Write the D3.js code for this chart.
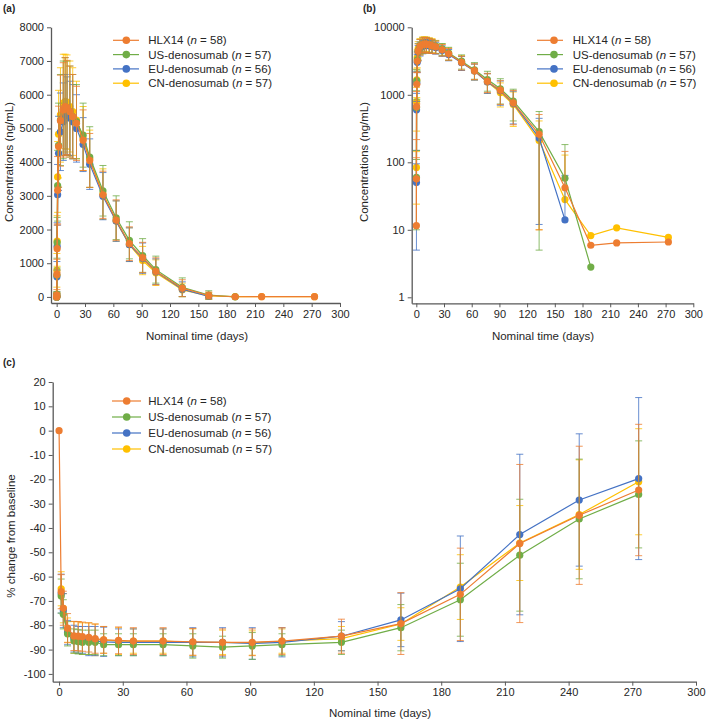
<!DOCTYPE html>
<html><head><meta charset="utf-8">
<script src="https://cdn.jsdelivr.net/npm/d3@7"></script>
<style>
body{margin:0;background:#fff;}
text{font-family:"Liberation Sans",Arial,sans-serif;fill:#262626;}
</style>
</head><body><svg id="chart" width="709" height="720"></svg>
<script>
// ---------- data ----------
const seriesNames = ["HLX14", "US-denosumab", "EU-denosumab", "CN-denosumab"];
const seriesN = [58, 57, 56, 57];
const seriesColors = ["#ED7D31", "#70AD47", "#4472C4", "#FFC000"];

// PK (panels a, b)
const pkTimes = [0, 0.04, 0.125, 0.25, 0.5, 1, 2, 4, 7, 9, 11, 14, 17, 21, 28, 35, 49, 63, 77, 91, 105, 133, 161, 189, 217, 273];
const pkHLX14 = [0, 11.5, 57, 667, 1432, 3165, 4460, 5230, 5550, 5650, 5620, 5500, 5350, 5150, 4650, 4050, 3030, 2280, 1580, 1170, 760, 260, 42, 5.9, 6.4, 6.6];
const pkHLX14SD = [0, 0, 60, 450, 700, 1000, 1200, 1350, 1400, 1450, 1400, 1350, 1250, 1100, 900, 800, 700, 600, 500, 450, 400, 250, 103, 0, 0, 0];
const pkUS = [0, 0, 60, 650, 1610, 3300, 4500, 5250, 5550, 5650, 5600, 5500, 5350, 5200, 4800, 4150, 3150, 2350, 1680, 1230, 810, 285, 58, 2.8, null, null];
const pkUSSD = [0, 0, 50, 500, 750, 1050, 1250, 1350, 1450, 1450, 1400, 1350, 1250, 1100, 950, 900, 750, 650, 550, 500, 400, 280, 125, 0, null, null];
const pkEU = [0, 0, 50, 600, 1500, 3030, 4260, 4900, 5200, 5400, 5380, 5300, 5200, 5000, 4520, 3940, 2990, 2250, 1550, 1150, 750, 230, 14, null, null, null];
const pkEUSD = [0, 0, 45, 450, 700, 900, 1100, 1150, 1150, 1200, 1150, 1100, 1100, 1000, 800, 750, 700, 600, 500, 450, 380, 218, 50, null, null, null];
const pkCN = [0, 0, 84, 790, 1660, 3560, 4830, 5400, 5750, 5800, 5780, 5650, 5500, 5250, 4700, 4100, 3050, 2250, 1550, 1080, 720, 210, 28, 8.2, 10.7, 7.7];
const pkCNSD = [0, 0, 60, 500, 750, 1050, 1300, 1400, 1450, 1400, 1400, 1350, 1300, 1150, 950, 850, 750, 600, 500, 420, 380, 200, 100, 0, 0, 0];

// % change from baseline (panel c)
const bmTimes = [0, 1, 2, 4, 7, 9, 11, 14, 17, 21, 28, 35, 49, 63, 77, 91, 105, 133, 161, 189, 217, 245, 273];
const bmHLX14 = [0, -66.2, -73, -81.2, -84.4, -84.5, -84.7, -85, -85.5, -86, -86.2, -86.5, -86.5, -86.8, -87, -87, -86.5, -84.5, -79.3, -67.3, -46.4, -34.8, -24.4];
const bmHLX14SD = [0, 7, 7, 6, 6, 6, 6, 6, 6, 5.5, 5.5, 5.5, 5.5, 5.5, 5.5, 5.5, 5.5, 7, 12.7, 19, 32.5, 28.4, 27];
const bmUS = [null, -68, -75.5, -83.5, -86.5, -86.8, -87, -87, -87, -88, -88, -88, -88, -88.5, -89, -88.5, -88, -87, -81, -69.5, -51.2, -36.3, -26.2];
const bmUSSD = [null, 7, 6, 5, 5, 5, 5, 5, 5, 4.5, 4.5, 4.5, 4.5, 5, 4.5, 5.5, 4.5, 5, 9.5, 15, 23, 24.6, 22];
const bmEU = [null, -67, -74, -83, -85.5, -86, -86, -86.5, -86.5, -86.8, -87, -87, -87, -87, -87, -87.5, -87, -84.5, -77.8, -65, -42.7, -28.5, -19.7];
const bmEUSD = [null, 8, 7, 5, 5.5, 5.5, 5.5, 6, 6, 6, 5.5, 5.5, 5.5, 6, 6, 6.5, 6, 6, 11, 21.7, 33, 27.2, 33.3];
const bmCN = [null, -65, -73, -82, -85, -85, -85.5, -85.5, -86, -86, -86.5, -86.5, -86.5, -87, -87, -87.3, -86.5, -85.5, -79.5, -64.3, -46.2, -34.5, -21];
const bmCNSD = [null, 7, 6, 5, 6.5, 6.5, 6.5, 6.5, 6.5, 5.5, 5.5, 5, 5, 5.5, 5, 5, 5, 5, 6.7, 13.3, 15.4, 22.5, 21.8];

const xTicks = [0, 30, 60, 90, 120, 150, 180, 210, 240, 270, 300];
const yTicksA = [0, 1000, 2000, 3000, 4000, 5000, 6000, 7000, 8000];
const yTicksB = [1, 10, 100, 1000, 10000];
const yTicksC = [20, 10, 0, -10, -20, -30, -40, -50, -60, -70, -80, -90, -100];

// ---------- drawing ----------
const svg = d3.select("#chart");
const axisColor = "#595959";

function buildSeries(times, vals, sds) {
  return vals.map((v, k) => ({ name: seriesNames[k], n: seriesN[k], color: seriesColors[k],
    pts: times.map((t, i) => ({ t, v: v[i], sd: sds[k][i] })) }));
}

function styleAxis(g) {
  g.select(".domain").attr("stroke", axisColor).attr("stroke-width", 1.3);
  g.selectAll(".tick line").attr("stroke", axisColor).attr("stroke-width", 1);
  g.selectAll(".tick text").attr("font-size", 11).attr("fill", "#262626")
    .attr("font-family", '"Liberation Sans",Arial,sans-serif');
}

function drawPanel(cfg) {
  const g = svg.append("g");
  const x = d3.scaleLinear().domain(cfg.xDomain).range(cfg.xRange);
  const y = cfg.log ? d3.scaleLog().domain(cfg.yDomain).range(cfg.yRange)
                    : d3.scaleLinear().domain(cfg.yDomain).range(cfg.yRange);
  const valid = d => d.v !== null && d.v !== undefined && (!cfg.log || d.v > 0);

  // axes
  g.append("g").attr("transform", `translate(0,${cfg.yRange[0]})`)
    .call(d3.axisBottom(x).tickValues(xTicks).tickSize(4).tickSizeOuter(0).tickPadding(3).tickFormat(d3.format("d")))
    .call(styleAxis);
  g.append("g").attr("transform", `translate(${cfg.xRange[0]},0)`)
    .call(d3.axisLeft(y).tickValues(cfg.yTicks).tickSize(4).tickSizeOuter(0).tickPadding(3).tickFormat(d => String(d)))
    .call(styleAxis);

  // series (drawn in reverse so HLX14 ends on top)
  const line = d3.line().defined(valid).x(d => x(d.t)).y(d => y(d.v));
  const cap = 3.5;
  cfg.series.slice().reverse().forEach(s => {
    const sg = g.append("g");
    const eb = s.pts.filter(d => valid(d) && d.sd);
    eb.forEach(d => {
      const hi = d.v + d.sd, lo = d.v - d.sd;
      const xx = x(d.t);
      const yHi = y(hi);
      const hasLo = !cfg.log || lo > 0;
      const yLo = hasLo ? y(lo) : y(d.v);
      sg.append("line").attr("x1", xx).attr("x2", xx).attr("y1", yHi).attr("y2", yLo)
        .attr("stroke", s.color).attr("stroke-width", 1).attr("stroke-opacity", 0.8);
      sg.append("line").attr("x1", xx - cap).attr("x2", xx + cap).attr("y1", yHi).attr("y2", yHi)
        .attr("stroke", s.color).attr("stroke-width", 1).attr("stroke-opacity", 0.8);
      if (hasLo) sg.append("line").attr("x1", xx - cap).attr("x2", xx + cap).attr("y1", yLo).attr("y2", yLo)
        .attr("stroke", s.color).attr("stroke-width", 1).attr("stroke-opacity", 0.8);
    });
    sg.append("path").datum(s.pts.filter(valid)).attr("d", line)
      .attr("fill", "none").attr("stroke", s.color).attr("stroke-width", 1.2);
    sg.selectAll("circle").data(s.pts.filter(valid)).join("circle")
      .attr("cx", d => x(d.t)).attr("cy", d => y(d.v)).attr("r", 3.6).attr("fill", s.color);
  });

  // legend
  const lg = g.append("g");
  cfg.series.forEach((s, i) => {
    const yy = cfg.legend.y0 + i * cfg.legend.dy;
    lg.append("line").attr("x1", cfg.legend.x1).attr("x2", cfg.legend.x2).attr("y1", yy).attr("y2", yy)
      .attr("stroke", s.color).attr("stroke-width", 1.2);
    lg.append("circle").attr("cx", cfg.legend.xm).attr("cy", yy).attr("r", 3.8).attr("fill", s.color);
    const t = lg.append("text").attr("x", cfg.legend.xt).attr("y", yy + 4).attr("font-size", 11.5);
    t.append("tspan").text(s.name + " (");
    t.append("tspan").attr("font-style", "italic").text("n");
    t.append("tspan").text(" = " + s.n + ")");
  });

  // titles
  g.append("text").attr("x", cfg.xTitle[0]).attr("y", cfg.xTitle[1]).attr("text-anchor", "middle")
    .attr("font-size", 11.5).text("Nominal time (days)");
  g.append("text").attr("transform", `translate(${cfg.yTitle[0]},${cfg.yTitle[1]}) rotate(-90)`)
    .attr("text-anchor", "middle").attr("font-size", 11.5).text(cfg.yLabel);
  g.append("text").attr("x", cfg.tag[0]).attr("y", cfg.tag[1]).attr("font-size", 10)
    .attr("font-weight", "bold").text(cfg.tagText);
}

drawPanel({
  xDomain: [-6, 300], xRange: [51, 340], yDomain: [-180, 8000], yRange: [303, 27.3], yTicks: yTicksA,
  series: buildSeries(pkTimes, [pkHLX14, pkUS, pkEU, pkCN], [pkHLX14SD, pkUSSD, pkEUSD, pkCNSD]),
  legend: { x1: 113, x2: 139, xm: 126.3, xt: 148.3, y0: 40.3, dy: 14.3 },
  xTitle: [197, 340], yTitle: [12.5, 162], yLabel: "Concentrations (ng/mL)", tag: [3, 12], tagText: "(a)"
});
drawPanel({
  xDomain: [-5, 300], xRange: [411.7, 693.3], yDomain: [0.815, 10000], yRange: [303.3, 27.3], yTicks: yTicksB, log: true,
  series: buildSeries(pkTimes, [pkHLX14, pkUS, pkEU, pkCN], [pkHLX14SD, pkUSSD, pkEUSD, pkCNSD]),
  legend: { x1: 537, x2: 563, xm: 554, xt: 572.7, y0: 40.3, dy: 14.3 },
  xTitle: [543, 340], yTitle: [367.5, 162], yLabel: "Concentrations (ng/mL)", tag: [363, 12], tagText: "(b)"
});
drawPanel({
  xDomain: [-3, 300], xRange: [52.7, 696], yDomain: [-103.2, 20], yRange: [681.7, 382], yTicks: yTicksC,
  series: buildSeries(bmTimes, [bmHLX14, bmUS, bmEU, bmCN], [bmHLX14SD, bmUSSD, bmEUSD, bmCNSD]),
  legend: { x1: 112, x2: 141, xm: 126.7, xt: 148.3, y0: 401, dy: 16 },
  xTitle: [380, 716.5], yTitle: [15, 536], yLabel: "% change from baseline", tag: [3, 366], tagText: "(c)"
});
</script></body></html>
